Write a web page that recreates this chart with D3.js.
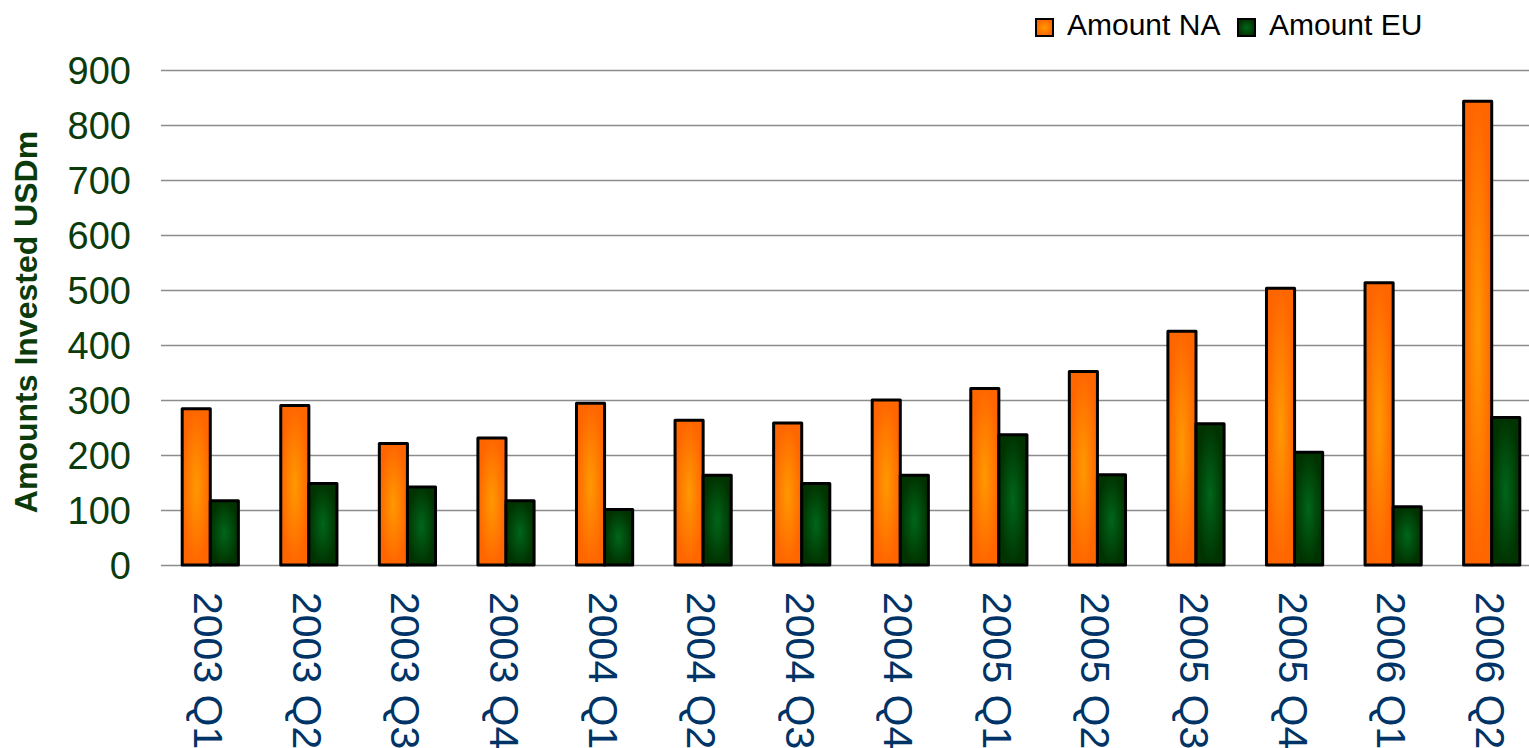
<!DOCTYPE html>
<html>
<head>
<meta charset="utf-8">
<script src="https://cdn.jsdelivr.net/npm/d3@7/dist/d3.min.js"></script>
<style>
  html, body { margin: 0; padding: 0; background: #fff; overflow: hidden; }
  svg { display: block; font-family: "Liberation Sans", Arial, sans-serif; }
</style>
</head>
<body>
<svg id="chart" width="1529" height="748"></svg>
<script>
// Quarterly venture amounts, USD millions
const quarters = ["2003 Q1", "2003 Q2", "2003 Q3", "2003 Q4",
                  "2004 Q1", "2004 Q2", "2004 Q3", "2004 Q4",
                  "2005 Q1", "2005 Q2", "2005 Q3", "2005 Q4",
                  "2006 Q1", "2006 Q2"];
const amountNA = [284, 290, 221, 231, 294, 263, 258, 300, 321, 352, 425, 503, 513, 843];
const amountEU = [117, 148, 142, 117, 101, 163, 148, 163, 237, 164, 257, 205, 106, 268];
const seriesNames = ["Amount NA", "Amount EU"];
const yTicks = [0, 100, 200, 300, 400, 500, 600, 700, 800, 900];

const svg = d3.select("#chart");
const margin = { left: 161, top: 70, bottom: 565 };
const plotRight = 1541;

// Gradient fills: lighter core fading to a darker rim
const defs = svg.append("defs");
const gradients = [
  { id: "gradNA", inner: "#ff9900", outer: "#ff6600" },
  { id: "gradEU", inner: "#00661a", outer: "#003300" }
];
gradients.forEach(g => {
  const rg = defs.append("radialGradient")
    .attr("id", g.id)
    .attr("cx", "50%").attr("cy", "50%").attr("r", "50%");
  rg.append("stop").attr("offset", "0%").attr("stop-color", g.inner);
  rg.append("stop").attr("offset", "100%").attr("stop-color", g.outer);
});
const fills = ["url(#gradNA)", "url(#gradEU)"];

const x0 = d3.scaleBand()
  .domain(quarters)
  .range([margin.left, plotRight])
  .paddingInner(0.43)
  .paddingOuter(0.215);

const x1 = d3.scaleBand()
  .domain(seriesNames)
  .range([0, x0.bandwidth()]);

const y = d3.scaleLinear()
  .domain([0, 900])
  .range([margin.bottom, margin.top]);

// Horizontal gridlines
svg.append("g")
  .selectAll("line")
  .data(yTicks)
  .join("line")
  .attr("x1", margin.left)
  .attr("x2", plotRight)
  .attr("y1", d => Math.round(y(d)) + 0.5)
  .attr("y2", d => Math.round(y(d)) + 0.5)
  .attr("stroke", "#8c8c8c")
  .attr("stroke-width", 1.3);

// Y axis tick labels
const yAxis = d3.axisLeft(y).tickValues(yTicks).tickSize(0).tickPadding(0);
const yAxisG = svg.append("g")
  .attr("transform", `translate(131,0)`)
  .call(yAxis);
yAxisG.select(".domain").remove();
yAxisG.selectAll("text")
  .attr("x", 0)
  .attr("dy", "0.36em")
  .attr("fill", "#0b3b0b")
  .style("font-size", "38px")
  .style("font-family", "'Liberation Sans', Arial, sans-serif");

// Y axis title
svg.append("text")
  .attr("transform", `translate(37,322) rotate(-90)`)
  .attr("text-anchor", "middle")
  .attr("fill", "#0b3b0b")
  .style("font-size", "32px")
  .style("font-weight", "bold")
  .text("Amounts Invested USDm");

// Bars
const rows = quarters.map((q, i) => ({ q, values: [amountNA[i], amountEU[i]] }));
const groups = svg.append("g")
  .selectAll("g")
  .data(rows)
  .join("g")
  .attr("transform", d => `translate(${x0(d.q)},0)`);

groups.selectAll("rect")
  .data(d => d.values.map((v, k) => ({ k, v })))
  .join("rect")
  .attr("x", d => x1(seriesNames[d.k]))
  .attr("y", d => y(d.v))
  .attr("width", x1.bandwidth())
  .attr("height", d => y(0) - y(d.v))
  .attr("fill", d => fills[d.k])
  .attr("stroke", "#000")
  .attr("stroke-width", 3)
  .attr("stroke-linejoin", "round");

// X axis category labels, rotated to read downward
const xAxis = d3.axisBottom(x0).tickSize(0).tickPadding(0);
const xAxisG = svg.append("g")
  .attr("transform", `translate(0,${margin.bottom})`)
  .call(xAxis);
xAxisG.select(".domain").remove();
xAxisG.selectAll(".tick text")
  .attr("transform", "translate(-16,27) rotate(90)")
  .attr("x", 0)
  .attr("y", 0)
  .attr("dy", "0")
  .attr("text-anchor", "start")
  .attr("fill", "#003366")
  .style("font-size", "41px")
  .style("font-family", "'Liberation Sans', Arial, sans-serif");

// Legend
const legend = svg.append("g").attr("transform", "translate(1036,19)");
const legendX = [0, 202];
seriesNames.forEach((name, k) => {
  const g = legend.append("g").attr("transform", `translate(${legendX[k]},0)`);
  g.append("rect")
    .attr("width", 17).attr("height", 17)
    .attr("fill", fills[k])
    .attr("stroke", "#000")
    .attr("stroke-width", 2);
  g.append("text")
    .attr("x", 31)
    .attr("y", 16)
    .attr("fill", "#000")
    .style("font-size", "30px")
    .text(name);
});
</script>
</body>
</html>
